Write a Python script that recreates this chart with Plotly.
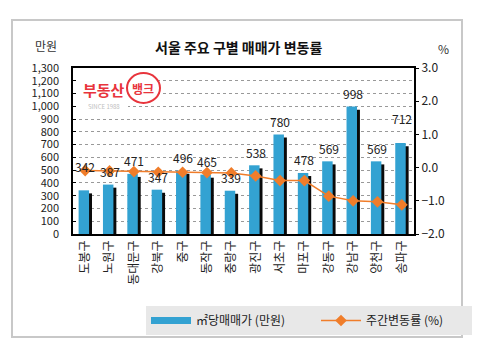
import plotly.graph_objects as go

districts = ["도봉구", "노원구", "동대문구", "강북구", "중구", "동작구", "중랑구",
             "광진구", "서초구", "마포구", "강동구", "강남구", "양천구", "송파구"]
price = [342, 387, 471, 347, 496, 465, 339, 538, 780, 478, 569, 998, 569, 712]
change = [-0.09, -0.10, -0.12, -0.14, -0.14, -0.15, -0.16,
          -0.25, -0.39, -0.39, -0.86, -1.00, -1.03, -1.12]
left_ticks = list(range(0, 1301, 100))
right_ticks = [-2, -1, 0, 1, 2, 3]

FONT = "Noto Sans CJK KR"
BLUE = "#33a2d2"
ORANGE = "#f07d2a"

x = list(range(len(districts)))

fig = go.Figure()
# shadow bars
fig.add_trace(go.Bar(x=x, y=price, base=[-24] * len(price), width=0.43, offset=-0.15,
                     marker=dict(color="#0a0a0a", line=dict(width=0)),
                     showlegend=False, hoverinfo="skip"))
fig.add_trace(go.Bar(x=x, y=price, width=0.43, offset=-0.27,
                     marker=dict(color=BLUE, line=dict(width=0)),
                     showlegend=False, name="㎡당매매가 (만원)"))
# legend-only swatch for bars
fig.add_trace(go.Scatter(x=[None], y=[None], mode="lines",
                         line=dict(color=BLUE, width=7), name="㎡당매매가 (만원)"))
fig.add_trace(go.Scatter(x=x, y=change, yaxis="y2", mode="lines+markers",
                         line=dict(color=ORANGE, width=1.5),
                         marker=dict(symbol="diamond", size=9, color=ORANGE),
                         name="주간변동률 (%)"))

extra_shift = {0: 11, 13: 12}
for i, v in enumerate(price):
    fig.add_annotation(x=i, y=v, xref="x", yref="y", text=str(v), showarrow=False,
                       yshift=13 + extra_shift.get(i, 0),
                       font=dict(family=FONT, size=12, color="#222"))

# page body has an 8px margin; figure is laid out to land on target pixels
FW, FH = 472, 350
L, T, W, H = 65, 60, 341, 166
R, B = FW - L - W, FH - T - H


def px(X):
    return (X - 73) / W


def py(Y):
    return (234 - Y) / H


shapes = [
    dict(type="rect", xref="paper", yref="paper", x0=px(12), x1=px(462), y0=py(337), y1=py(20),
         line=dict(color="#c8c8c8", width=2), layer="below"),
    dict(type="rect", xref="paper", yref="paper", x0=px(78), x1=px(128), y0=py(109), y1=py(80),
         fillcolor="white", line=dict(width=0), layer="above"),
    dict(type="circle", xref="paper", yref="paper", x0=px(127), x1=px(160), y0=py(103), y1=py(73),
         fillcolor="white", line=dict(color="#e8343c", width=2), layer="above"),
]
ann = [
    dict(x=px(238), y=py(47), text="<b>서울 주요 구별 매매가 변동률</b>", font=dict(size=14, color="#111")),
    dict(x=px(46), y=py(45), text="만원", font=dict(size=12, color="#333")),
    dict(x=px(443), y=py(48), text="%", font=dict(size=12, color="#333")),
    dict(x=px(104), y=py(89), text="<b>부동산</b>", font=dict(size=15, color="#e8343c")),
    dict(x=px(143), y=py(88), text="<b>뱅크</b>", font=dict(size=12, color="#e8343c")),
    dict(x=px(104), y=py(106), text="SINCE 1988", font=dict(size=6, color="#c0c0c0")),
]
for a in ann:
    fig.add_annotation(xref="paper", yref="paper", showarrow=False,
                       xanchor="center", yanchor="middle",
                       **{k: v for k, v in a.items() if k != "font"},
                       font=dict(family=FONT, **a["font"]))

fig.update_layout(
    width=FW, height=FH,
    margin=dict(l=L, r=R, t=T, b=B, autoexpand=False),
    paper_bgcolor="white", plot_bgcolor="white",
    font=dict(family=FONT, size=12, color="#222"),
    barmode="overlay",
    shapes=shapes,
    xaxis=dict(tickmode="array", tickvals=x, ticktext=districts, tickangle=-90,
               range=[-0.5, len(districts) - 0.5], showgrid=False, automargin=False,
               showline=True, mirror=True, linecolor="black", linewidth=1.5,
               ticks="", tickfont=dict(size=12, color="#222")),
    yaxis=dict(range=[0, 1300], tickmode="array", tickvals=left_ticks, automargin=False,
               tickformat=",", showgrid=True, gridcolor="#999999", griddash="dot",
               zeroline=False, showline=True, mirror=True, linecolor="black", linewidth=1.5,
               ticks="inside", ticklen=3, tickcolor="black", ticklabelstandoff=10,
               tickfont=dict(size=11, color="#222")),
    yaxis2=dict(range=[-2, 3], overlaying="y", side="right", tickmode="array", automargin=False,
                tickvals=right_ticks, tickformat=".1f", showgrid=False, zeroline=False,
                ticks="outside", ticklen=4, tickcolor="black", showline=False,
                tickfont=dict(size=12, color="#222")),
    legend=dict(orientation="h", x=px(146), y=py(306), xanchor="left", yanchor="top",
                bgcolor="#e8e8e8", font=dict(size=12, color="#222"),
                itemwidth=40, tracegroupgap=0, entrywidth=115, entrywidthmode="pixels"),
    showlegend=True,
)

fig.write_html("out.html")
